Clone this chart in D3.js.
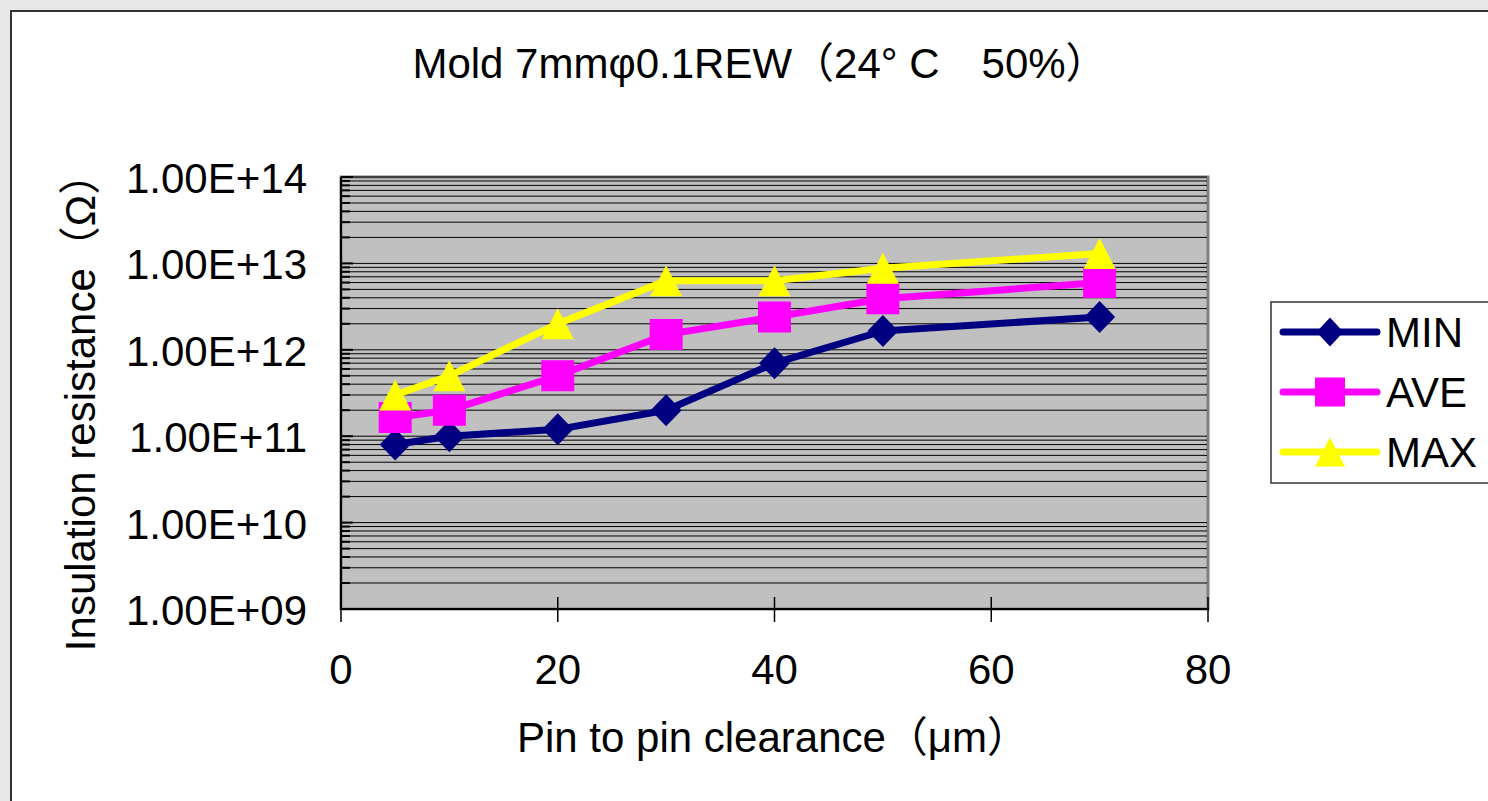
<!DOCTYPE html>
<html><head><meta charset="utf-8">
<script src="https://cdn.jsdelivr.net/npm/d3@7"></script>
<style>
body{margin:0;background:#e8e8e8;overflow:hidden}
text{font-family:"Liberation Sans",Arial,"Noto Sans CJK JP",sans-serif;fill:#000}
</style>
</head><body><svg id="c" width="1488" height="801"></svg>
<script>
// ---- data ----
const clearance = [5, 10, 20, 30, 40, 50, 70];
const minValues = [8e10, 1e11, 1.2e11, 2e11, 7e11, 1.65e12, 2.4e12];
const aveValues = [1.65e11, 2e11, 5e11, 1.5e12, 2.4e12, 3.9e12, 6e12];
const maxValues = [3e11, 5e11, 2e12, 6.3e12, 6.3e12, 8.8e12, 1.3e13];
const seriesNames = ["MIN", "AVE", "MAX"];
const seriesColors = ["#000080", "#ff00ff", "#ffff00"];
const seriesMarkers = ["diamond", "square", "triangle"];
const xTicks = [0, 20, 40, 60, 80];
const yTicks = [1e9, 1e10, 1e11, 1e12, 1e13, 1e14];
const yTickLabels = ["1.00E+09", "1.00E+10", "1.00E+11", "1.00E+12", "1.00E+13", "1.00E+14"];
const chartTitle = "Mold 7mmφ0.1REW（24° C　50%）";
const xTitle = "Pin to pin clearance（μm）";
const yTitle = "Insulation resistance（Ω）";

const seriesValues = [minValues, aveValues, maxValues];

// ---- layout ----
const svg = d3.select("#c");
const W = 1488, H = 801;
const plot = {l: 341, r: 1208, t: 177, b: 609};
const fs = 42;

svg.append("rect").attr("x", 0).attr("y", 0).attr("width", W).attr("height", H).attr("fill", "#e8e8e8");
svg.append("rect").attr("x", 11).attr("y", 11).attr("width", W + 20).attr("height", H + 20)
  .attr("fill", "#fff").attr("stroke", "#333").attr("stroke-width", 2);

const x = d3.scaleLinear().domain([0, 80]).range([plot.l, plot.r]);
const y = d3.scaleLog().domain([1e9, 1e14]).range([plot.b, plot.t]);

// plot background + border
svg.append("rect").attr("x", plot.l).attr("y", plot.t).attr("width", plot.r - plot.l).attr("height", plot.b - plot.t)
  .attr("fill", "#c0c0c0").attr("stroke", "#808080").attr("stroke-width", 3);

// gridlines (major + minor log)
const grid = [];
for (let e = 9; e < 14; e++) for (let m = 1; m <= 9; m++) grid.push(m * Math.pow(10, e));
grid.push(1e14);
svg.append("g").selectAll("line").data(grid).join("line")
  .attr("x1", plot.l).attr("x2", plot.r - 1)
  .attr("y1", d => y(d)).attr("y2", d => y(d))
  .attr("stroke", "#000").attr("stroke-width", 1);

// inner tick marks on y axis
svg.append("g").selectAll("line").data(grid).join("line")
  .attr("x1", plot.l).attr("x2", d => yTicks.includes(d) ? plot.l + 12 : plot.l + 9)
  .attr("y1", d => y(d)).attr("y2", d => y(d))
  .attr("stroke", "#000").attr("stroke-width", 2);

// axes lines
svg.append("line").attr("x1", plot.l).attr("x2", plot.l).attr("y1", plot.t).attr("y2", plot.b)
  .attr("stroke", "#000").attr("stroke-width", 2);
svg.append("line").attr("x1", plot.l).attr("x2", plot.r + 1).attr("y1", plot.b).attr("y2", plot.b)
  .attr("stroke", "#000").attr("stroke-width", 2);

// x ticks (cross)
svg.append("g").selectAll("line").data(xTicks).join("line")
  .attr("x1", d => x(d)).attr("x2", d => x(d))
  .attr("y1", d => d === 0 ? plot.b : plot.b - 12).attr("y2", plot.b + 13)
  .attr("stroke", "#000").attr("stroke-width", 1.5);

// x tick labels
svg.append("g").selectAll("text").data(xTicks).join("text")
  .attr("x", d => x(d)).attr("y", 684).attr("text-anchor", "middle")
  .attr("font-size", fs).text(d => d);

// y tick labels
svg.append("g").selectAll("text").data(yTicks).join("text")
  .attr("x", 307).attr("y", d => y(d) + 16).attr("text-anchor", "end")
  .attr("font-size", fs).text((d, i) => yTickLabels[i]);

// titles
svg.append("text").attr("x", 760).attr("y", 78).attr("text-anchor", "middle").attr("font-size", fs).text(chartTitle);
svg.append("text").attr("x", 773).attr("y", 752).attr("text-anchor", "middle").attr("font-size", fs).text(xTitle);
svg.append("text").attr("transform", "translate(95,402) rotate(-90)").attr("text-anchor", "middle")
  .attr("font-size", fs).text(yTitle);

// markers
function markerPath(type) {
  if (type === "diamond") return "M0,-16L15.5,0L0,16L-15.5,0Z";
  if (type === "square") return "M-16.5,-15.5H16.5V15.5H-16.5Z";
  return "M0,-15.5L16,15.5L-16,15.5Z";
}
function legendMarkerPath(type) {
  if (type === "diamond") return "M0,-14.5L13.5,0L0,14.5L-13.5,0Z";
  if (type === "square") return "M-15,-14.5H15V14.5H-15Z";
  return "M0,-14.5L15,14.5L-15,14.5Z";
}

const line = d3.line().x(d => x(d[0])).y(d => y(d[1]));
seriesValues.forEach((vals, si) => {
  const pts = clearance.map((c, i) => [c, vals[i]]);
  const g = svg.append("g");
  g.append("path").attr("d", line(pts)).attr("fill", "none")
    .attr("stroke", seriesColors[si]).attr("stroke-width", 7).attr("stroke-linejoin", "round");
  g.selectAll("path.m").data(pts).join("path").attr("class", "m")
    .attr("transform", d => `translate(${x(d[0])},${y(d[1])})`)
    .attr("d", markerPath(seriesMarkers[si])).attr("fill", seriesColors[si]);
});

// legend
const lg = svg.append("g");
lg.append("rect").attr("x", 1271).attr("y", 302).attr("width", 260).attr("height", 181)
  .attr("fill", "#fff").attr("stroke", "#333").attr("stroke-width", 1.5);
seriesNames.forEach((n, i) => {
  const cy = 332 + i * 60;
  lg.append("line").attr("x1", 1283).attr("x2", 1377).attr("y1", cy).attr("y2", cy)
    .attr("stroke", seriesColors[i]).attr("stroke-width", 7).attr("stroke-linecap", "round");
  lg.append("path").attr("transform", `translate(1330,${cy})`).attr("d", legendMarkerPath(seriesMarkers[i]))
    .attr("fill", seriesColors[i]);
  lg.append("text").attr("x", 1386).attr("y", cy + 15).attr("font-size", fs).text(n);
});
</script>
</body></html>
